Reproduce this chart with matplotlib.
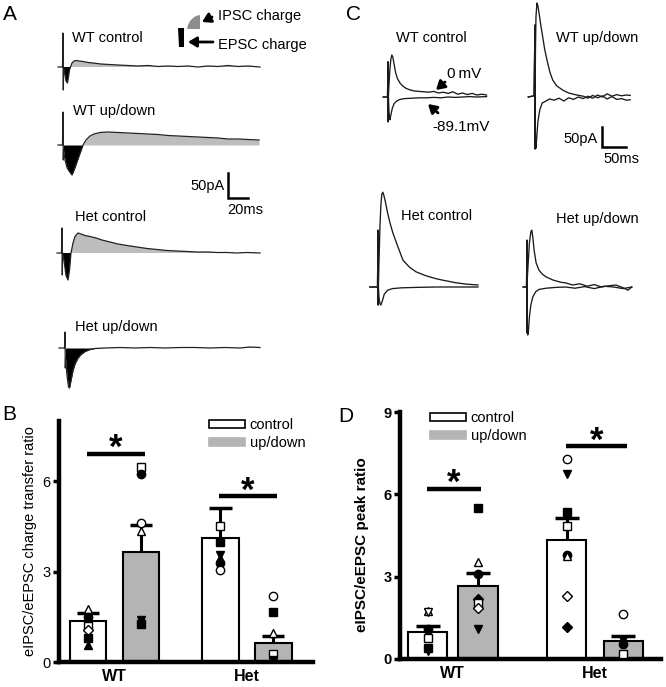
import numpy as np
import matplotlib
matplotlib.use("Agg")
import matplotlib.pyplot as plt
from matplotlib.transforms import Affine2D
from matplotlib.patches import Patch, Polygon

plt.rcParams['font.family'] = ['Liberation Sans', 'DejaVu Sans']

# ------------------------------------------------------------------ data
groups = ["WT", "Het"]
conditions = ["control", "up/down"]

# panel B: charge transfer ratio (WT ctrl, WT up/down, Het ctrl, Het up/down)
charge_means = [1.35, 3.65, 4.10, 0.62]
charge_sem = [0.27, 0.90, 1.00, 0.25]
charge_pts = [
    [1.75, 1.50, 1.38, 1.20, 1.05, 0.80, 0.55],
    [6.48, 6.25, 4.60, 4.35, 1.40, 1.25],
    [4.50, 4.00, 3.55, 3.45, 3.30, 3.05],
    [2.20, 1.65, 0.95, 0.25, 0.05, 0.02],
]
charge_marks = [
    ["^w", "ok", "vk", "sw", "Dw", "sk", "^k"],
    ["sw", "ok", "ow", "^w", "vk", "sk"],
    ["sw", "sk", "vk", "^k", "ok", "ow"],
    ["ow", "sk", "^w", "sw", "vk", "Dk"],
]
charge_sig = [6.9, 5.5]

# panel D: peak ratio
peak_means = [1.00, 2.65, 4.35, 0.65]
peak_sem = [0.20, 0.50, 0.80, 0.20]
peak_pts = [
    [1.75, 1.72, 1.10, 1.00, 0.75, 0.40, 0.30],
    [5.50, 3.55, 3.10, 2.20, 2.05, 1.85, 1.10],
    [7.30, 6.75, 5.35, 4.85, 3.80, 3.75, 2.30, 1.15],
    [1.65, 0.70, 0.55, 0.20],
]
peak_marks = [
    ["^w", "vw", "ok", "^k", "sw", "sk", "vk"],
    ["sk", "^w", "ok", "Dk", "sw", "Dw", "vk"],
    ["ow", "vk", "sk", "sw", "ok", "^w", "Dw", "Dk"],
    ["ow", "vk", "ok", "sw"],
]
peak_sig = [6.2, 7.75]

# panel A traces (ms, pA)
a_wt_ctrl_t = [-5, -0.5, 0, 0.3, 0.6, 1.5, 3, 4.5, 5.5, 6.5, 7.5, 9, 11, 13, 16, 20, 25, 30, 38, 46, 55, 65,
               75, 85, 95, 105, 115, 125, 135, 145, 155, 165, 175, 185, 197]
a_wt_ctrl_i = [0, 0, 68, -46, 0, -10, -28, -32, -20, -6, 0, 8, 12, 13, 12, 11, 9, 8, 6, 5, 4, 3,
               2, 3, 1, 2, 1, 2, 0, 2, 1, 3, 1, 2, 0]
a_wt_ud_t = [-5, -0.5, 0, 0.3, 0.6, 2, 4, 6, 9, 12, 16, 20, 23, 27, 31, 37, 45, 55, 65, 75, 85, 95, 105,
             115, 125, 135, 145, 155, 165, 175, 185, 196]
a_wt_ud_i = [0, 0, 66, -30, -10, -30, -45, -52, -60, -45, -22, 0, 10, 18, 22, 25, 26, 25, 24, 23, 22, 21,
             19, 18, 17, 16, 15, 14, 12, 12, 11, 10]
a_het_ctrl_t = [-5, -0.5, 0, 0.3, 0.6, 2, 4, 6, 7.5, 9, 11, 13, 16, 19, 23, 28, 34, 40, 48, 56, 65, 75,
                85, 95, 105, 115, 125, 135, 145, 155, 165, 175, 185, 198]
a_het_ctrl_i = [0, 0, 50, -44, 0, -15, -45, -54, -35, 0, 20, 33, 40, 38, 35, 33, 30, 26, 22, 18, 15, 12,
                9, 7, 5, 4, 3, 2, 2, 1, 1, 0, 1, 0]
a_het_ud_t = [-6, -0.5, 0, 0.3, 0.6, 2, 3.5, 4.5, 6, 8, 10, 13, 16, 20, 25, 30, 40, 55, 70, 85, 100, 115,
              130, 145, 160, 175, 185, 195]
a_het_ud_i = [0, 0, 32, -40, -20, -55, -78, -80, -65, -45, -32, -20, -13, -7, -3, -1, 0, 1, 0, 1, 0, 1,
              1, 0, 1, 0, 2, 1]

# panel C traces (ms, pA): upper = 0 mV, lower = -89.1 mV
c_wt_ctrl_up_t = [-10, -1, 0, 0.3, 0.8, 2, 4, 6, 8, 10, 13, 16, 20, 25, 30, 37, 45, 55, 65, 75, 85, 95,
                  105, 115, 125, 135, 145, 155, 165, 175, 185, 195, 205]
c_wt_ctrl_up_i = [0, 0, 88, -62, 0, 30, 70, 95, 105, 100, 80, 60, 45, 35, 28, 22, 18, 15, 14, 13, 12, 14,
                  10, 12, 9, 13, 7, 10, 6, 9, 5, 7, 5]
c_wt_ctrl_lo_t = [-10, -1, 0, 0.3, 0.8, 2, 3, 4, 6, 9, 13, 18, 25, 35, 50, 65, 80, 95, 110, 125, 140,
                  155, 170, 185, 205]
c_wt_ctrl_lo_i = [0, 0, 88, -62, 0, -35, -50, -57, -45, -28, -16, -10, -6, -4, -3, -2, -2, -1, -2, 0, -1,
                  0, 1, 0, 1]
c_wt_ud_up_t = [-14, -2, 0, 0.3, 0.6, 1, 2, 4, 6, 9, 12, 15, 20, 25, 31, 37, 45, 58, 70, 87, 100, 110,
                120, 130, 140, 150, 160, 170, 180, 190, 198]
c_wt_ud_up_i = [0, 3, 180, -130, 60, 120, 200, 235, 228, 205, 180, 158, 120, 92, 62, 42, 28, 17, 10, 5,
                2, -3, 4, -2, 3, -5, 1, -6, -4, -8, -7]
c_wt_ud_lo_t = [-14, -2, 0, 0.3, 0.6, 1, 2, 4, 6, 10, 15, 20, 30, 40, 50, 60, 70, 80, 90, 100, 110, 120,
                130, 140, 150, 160, 170, 180, 190, 198]
c_wt_ud_lo_i = [0, 3, 180, -130, -60, -110, -128, -95, -62, -32, -15, -12, -5, -8, -3, -10, -2, -6, 0,
                -4, 2, -3, 5, 0, 8, 2, 6, 3, 5, 4]
c_het_ctrl_up_t = [-17, -1, 0, 0.3, 0.8, 2, 4, 6, 8, 10, 12, 15, 20, 25, 31, 40, 52, 65, 79, 100, 120,
                   135, 160, 185, 208]
c_het_ctrl_up_i = [0, 0, 142, -45, 0, 60, 150, 205, 232, 237, 230, 215, 185, 160, 135, 105, 67, 50, 38,
                   28, 21, 17, 11, 7, 5]
c_het_ctrl_lo_t = [-17, -1, 0, 0.3, 0.8, 2, 4, 6, 9, 13, 20, 30, 50, 80, 120, 160, 208]
c_het_ctrl_lo_i = [0, 0, 142, -45, 0, -25, -42, -45, -35, -18, -8, -4, -2, -1, 0, 0, 0]
c_het_ud_up_t = [-8, -1, 0, 0.3, 0.6, 2, 5, 8, 10, 12, 15, 19, 25, 32, 40, 55, 70, 81, 95, 110, 125, 140,
                 155, 170, 185, 200, 210, 218]
c_het_ud_up_i = [0, 0, 117, -115, 20, 50, 110, 138, 142, 125, 90, 60, 42, 32, 25, 17, 12, 10, 5, 8, 2, 6,
                 0, 3, 5, -2, -8, 0]
c_het_ud_lo_t = [-8, -1, 0, 0.3, 0.6, 1.5, 3, 5, 8, 12, 18, 25, 40, 60, 80, 100, 120, 140, 160, 180, 200,
                 218]
c_het_ud_lo_i = [0, 0, 117, -115, -95, -120, -110, -75, -45, -25, -12, -6, -3, -1, 0, -3, 1, -4, 2, 0,
                 -4, 0]

# ------------------------------------------------------------------ style
W, H = 666, 687
GRAY_BAR = "#b4b4b4"
GRAY_FILL = "#bdbdbd"
A_MS_PX, A_PA_PX = 1.0, 2.0
C_MS_PX, C_PA_PX = 2.08, 2.5

fig = plt.figure(figsize=(W / 100, H / 100), dpi=100)
ov = fig.add_axes([0, 0, 1, 1])
ov.set_xlim(0, W)
ov.set_ylim(H, 0)
ov.axis("off")


def trace_tr(x0, y0, ms_px, pa_px):
    return Affine2D().scale(1.0 / ms_px, -1.0 / pa_px).translate(x0, y0) + ov.transData


def draw_a_trace(t, i, x0, y0, epsc_end, ipsc_start):
    tr = trace_tr(x0, y0, A_MS_PX, A_PA_PX)
    t = np.asarray(t, float)
    i = np.asarray(i, float)
    m = t >= 0.3
    tt, ii = t[m], i[m]
    ov.fill_between(tt, ii, 0, where=(ii < 0) & (tt <= epsc_end), interpolate=True,
                    color="black", lw=0, transform=tr)
    ov.fill_between(tt, ii, 0, where=(ii > 0) & (tt >= ipsc_start), interpolate=True,
                    color=GRAY_FILL, lw=0, transform=tr)
    ov.plot(t, i, color="#222222", lw=0.9, transform=tr)


def draw_c_pair(tu, iu, tl, il, x0, y0):
    tr = trace_tr(x0, y0, C_MS_PX, C_PA_PX)
    ov.plot(tu, iu, color="#1a1a1a", lw=0.95, transform=tr)
    ov.plot(tl, il, color="#1a1a1a", lw=0.95, transform=tr)


# ---------------- panel A
draw_a_trace(a_wt_ctrl_t, a_wt_ctrl_i, 63, 67, 9, 6)
draw_a_trace(a_wt_ud_t, a_wt_ud_i, 63, 145, 21, 18)
draw_a_trace(a_het_ctrl_t, a_het_ctrl_i, 62, 253, 9, 8)
draw_a_trace(a_het_ud_t, a_het_ud_i, 65, 348, 40, 40)

fs = 10.5
ov.text(3, 15, "A", fontsize=15, va="center", ha="left")
ov.text(72, 38, "WT control", fontsize=fs, va="center")
ov.text(73, 111, "WT up/down", fontsize=fs, va="center")
ov.text(75, 217, "Het control", fontsize=fs, va="center")
ov.text(75, 327, "Het up/down", fontsize=fs, va="center")

# inset legend for charge
ov.add_patch(Polygon([(178, 28), (184, 28), (184, 47), (179, 47)], closed=True, color="black", lw=0))
ov.add_patch(Polygon([(187, 29), (188, 25), (190, 21), (193, 18), (196, 16), (200, 15), (200, 29)],
                     closed=True, color="#8c8c8c", lw=0))
arw = dict(arrowstyle="-|>,head_length=0.5,head_width=0.3", lw=2, color="black", shrinkA=0, shrinkB=0)
ov.annotate("", xy=(202, 22), xytext=(212, 17), arrowprops=arw)
ov.annotate("", xy=(188, 42), xytext=(213, 42), arrowprops=arw)
ov.text(218, 16, "IPSC charge", fontsize=fs, va="center")
ov.text(218, 45, "EPSC charge", fontsize=fs, va="center")

# scale bar A
trA = trace_tr(228, 198, A_MS_PX, A_PA_PX)
ov.plot([0, 0, 20], [50, 0, 0], color="black", lw=1.8, transform=trA, solid_joinstyle="miter")
ov.text(225, 186, "50pA", fontsize=fs, ha="right", va="center")
ov.text(227, 210, "20ms", fontsize=fs, ha="left", va="center")

# ---------------- panel C
draw_c_pair(c_wt_ctrl_up_t, c_wt_ctrl_up_i, c_wt_ctrl_lo_t, c_wt_ctrl_lo_i, 388, 97)
draw_c_pair(c_wt_ud_up_t, c_wt_ud_up_i, c_wt_ud_lo_t, c_wt_ud_lo_i, 535, 97)
draw_c_pair(c_het_ctrl_up_t, c_het_ctrl_up_i, c_het_ctrl_lo_t, c_het_ctrl_lo_i, 378, 287)
draw_c_pair(c_het_ud_up_t, c_het_ud_up_i, c_het_ud_lo_t, c_het_ud_lo_i, 527, 287)

ov.text(346, 15, "C", fontsize=15, va="center", ha="left")
ov.text(396, 38, "WT control", fontsize=fs, va="center")
ov.text(556, 38, "WT up/down", fontsize=fs, va="center")
ov.text(401, 216, "Het control", fontsize=fs, va="center")
ov.text(556, 219, "Het up/down", fontsize=fs, va="center")
ov.annotate("", xy=(436, 90), xytext=(445, 82), arrowprops=arw)
ov.annotate("", xy=(428, 104), xytext=(438, 113), arrowprops=arw)
ov.text(447, 74, "0\u2009mV", fontsize=11, va="center", ha="left")
ov.text(432, 127, "-89.1mV", fontsize=11, va="center", ha="left")

trC = trace_tr(602, 147, C_MS_PX, C_PA_PX)
ov.plot([0, 0, 50], [50, 0, 0], color="black", lw=1.8, transform=trC, solid_joinstyle="miter")
ov.text(598, 139, "50pA", fontsize=fs, ha="right", va="center")
ov.text(603, 159, "50ms", fontsize=fs, ha="left", va="center")


# ---------------- bar panels
def bar_panel(rect, pos, width, means, sem, pts, marks, sig, ylim, yticks, ylabel, ylab_xy,
              bold_ticks, leg_xy, cap):
    ax = fig.add_axes(rect)
    ax.patch.set_alpha(0)
    colors = ["white", GRAY_BAR, "white", GRAY_BAR]
    ax.bar(pos, means, width=width, color=colors, edgecolor="black", linewidth=1.5, zorder=2)
    tops = [m + s for m, s in zip(means, sem)]
    ax.vlines(pos, means, tops, color="black", lw=2.2, zorder=3)
    ax.hlines(tops, [p - cap for p in pos], [p + cap for p in pos], color="black", lw=2.5, zorder=3)
    for p, vals, mk in zip(pos, pts, marks):
        for v, code in zip(vals, mk):
            ms = 5.2 if code[0] == "D" else 6.0
            ax.plot(p, v, marker=code[0], ls="none", ms=ms, mew=1.0,
                    mfc="black" if code[1] == "k" else "white", mec="black", zorder=4)
    for k, yv in enumerate(sig):
        x0, x1 = pos[2 * k] - 0.02, pos[2 * k + 1] + 0.07
        ax.plot([x0, x1], [yv, yv], color="black", lw=3.2, solid_capstyle="butt", zorder=3)
        ax.annotate("*", xy=((x0 + x1) / 2, yv), xytext=(0, -8), textcoords="offset points",
                    ha="center", va="bottom", fontsize=25, fontweight="bold")
    ax.set_ylim(*ylim)
    ax.set_xlim(pos[0] - (pos[1] - pos[0]) * 0.55, pos[3] + (pos[1] - pos[0]) * 0.75)
    ax.set_yticks(yticks)
    ax.set_yticklabels([str(v) for v in yticks], fontweight="bold" if bold_ticks else "normal",
                       fontsize=10.5)
    ax.set_xticks([(pos[0] + pos[1]) / 2, (pos[2] + pos[3]) / 2])
    ax.set_xticklabels(groups, fontweight="bold", fontsize=11.5)
    ax.tick_params(axis="x", length=0, pad=5)
    ax.tick_params(axis="y", direction="out", length=4, width=2.5, pad=2)
    for s in ["top", "right"]:
        ax.spines[s].set_visible(False)
    for s in ["left", "bottom"]:
        ax.spines[s].set_linewidth(3.2)
    fig.text(ylab_xy[0] / W, 1 - ylab_xy[1] / H, ylabel, rotation=90, ha="center", va="center",
             fontsize=10.5 if not bold_ticks else 11, fontweight="bold" if bold_ticks else "normal")
    handles = [Patch(facecolor="white", edgecolor="black", lw=1.2),
               Patch(facecolor=GRAY_BAR, edgecolor=GRAY_BAR, lw=1.2)]
    ax.legend(handles, conditions, loc="upper left", bbox_to_anchor=(leg_xy[0] / W, 1 - leg_xy[1] / H),
              bbox_transform=fig.transFigure, frameon=False, fontsize=10.5, handlelength=2.5,
              handleheight=0.5, handletextpad=0.3, labelspacing=0.3, borderpad=0, borderaxespad=0)
    return ax


pos_b = [0, 1, 2.5, 3.5]
axB = bar_panel([59 / W, 25 / H, 254 / W, 241 / H], pos_b, 0.69, charge_means, charge_sem,
                charge_pts, charge_marks, charge_sig, (0, 8), [0, 3, 6],
                "eIPSC/eEPSC charge transfer ratio", (30, 541), False, (209, 418), 0.21)
fig.text(2 / W, 1 - 414 / H, "B", fontsize=15, va="center", ha="left")

pos_d = [0, 1, 2.77, 3.9]
axD = bar_panel([400 / W, 28 / H, 261 / W, 247 / H], pos_d, 0.79, peak_means, peak_sem,
                peak_pts, peak_marks, peak_sig, (0, 9), [0, 3, 6, 9],
                "eIPSC/eEPSC peak ratio", (362, 545), True, (430, 411), 0.24)
fig.text(338 / W, 1 - 416 / H, "D", fontsize=15, va="center", ha="left")

fig.savefig("out.png", dpi=100)
